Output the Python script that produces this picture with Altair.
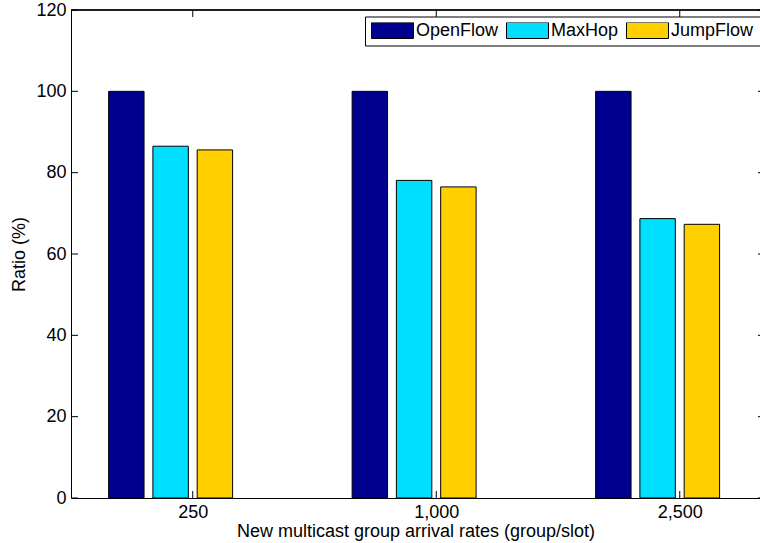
import json

import altair as alt
import pandas as pd

# Chart values
categories = ["250", "1,000", "2,500"]
series = ["OpenFlow", "MaxHop", "JumpFlow"]
openflow = [100, 100, 100]
maxhop = [86.5, 78.1, 68.7]
jumpflow = [85.6, 76.5, 67.3]
colors = ["#00008f", "#00dfff", "#ffcf00"]
y_ticks = [0, 20, 40, 60, 80, 100, 120]

FONT = "Liberation Sans"
FS = 18

# Plot geometry (pixels) and x layout (one unit per group)
W, H = 689, 488
GROUP_PX = 243.5
X_MIN = 0.5
X_MAX = X_MIN + W / GROUP_PX
SLOT = (4 / 5.5) / 4          # bar pitch inside a group (room for four bars)
HALF = 0.8 * SLOT / 2         # half bar width

rows = []
for k, (name, vals) in enumerate(zip(series, [openflow, maxhop, jumpflow])):
    for g, (cat, v) in enumerate(zip(categories, vals), start=1):
        c = g + (k - 1.5) * SLOT
        rows.append({"series": name, "category": cat, "ratio": v,
                     "x0": c - HALF, "x1": c + HALF})
bars_df = pd.DataFrame(rows)
groups_df = pd.DataFrame({"pos": list(range(1, len(categories) + 1))})
yticks_df = pd.DataFrame({"v": y_ticks})

label_expr = json.dumps(categories) + "[datum.value - 1]"

x_scale = alt.Scale(domain=[X_MIN, X_MAX], nice=False, zero=False)
y_scale = alt.Scale(domain=[0, 120], nice=False)

bars = alt.Chart(bars_df).mark_bar(stroke="black", strokeWidth=1).encode(
    x=alt.X("x0:Q", scale=x_scale,
            axis=alt.Axis(values=[1, 2, 3], labelExpr=label_expr,
                          title="New multicast group arrival rates (group/slot)",
                          grid=False, ticks=False, tickSize=0,
                          domainColor="black", domainWidth=1,
                          labelFont=FONT, labelFontSize=FS, labelColor="black",
                          labelPadding=5, labelFlush=False,
                          titleFont=FONT, titleFontSize=FS, titleColor="black",
                          titleFontWeight="normal", titlePadding=1)),
    x2="x1:Q",
    y=alt.Y("ratio:Q", scale=y_scale,
            axis=alt.Axis(values=y_ticks, title="Ratio (%)",
                          grid=False, ticks=False, tickSize=0,
                          domainColor="black", domainWidth=1,
                          labelFont=FONT, labelFontSize=FS, labelColor="black",
                          labelPadding=5, labelFlush=False,
                          titleFont=FONT, titleFontSize=FS, titleColor="black",
                          titleFontWeight="normal", titlePadding=7)),
    y2=alt.datum(0),
    color=alt.Color("series:N", sort=series,
                    scale=alt.Scale(domain=series, range=colors),
                    legend=alt.Legend(title=None, orient="none",
                                      legendX=294, legendY=6.5,
                                      direction="horizontal",
                                      symbolType="M-1,-0.381H1V0.381H-1Z",
                                      symbolSize=1764,
                                      symbolStrokeColor="black",
                                      symbolStrokeWidth=1, symbolOpacity=1,
                                      labelFont=FONT, labelFontSize=FS,
                                      labelColor="black", labelOffset=2,
                                      columnPadding=7, clipHeight=16,
                                      strokeColor="black", fillColor="white",
                                      padding=6)),
)

# Inward tick marks on all four sides, plus the top frame line
left_ticks = alt.Chart(yticks_df).mark_rule(color="black", strokeWidth=1).encode(
    y=alt.Y("v:Q", scale=y_scale), x=alt.value(0), x2=alt.value(7))
right_ticks = alt.Chart(yticks_df).mark_rule(color="black", strokeWidth=1).encode(
    y=alt.Y("v:Q", scale=y_scale), x=alt.value(W - 2), x2=alt.value(W + 5))
bottom_ticks = alt.Chart(groups_df).mark_rule(color="black", strokeWidth=1).encode(
    x=alt.X("pos:Q", scale=x_scale), y=alt.value(H), y2=alt.value(H - 7))
top_ticks = alt.Chart(groups_df).mark_rule(color="black", strokeWidth=1).encode(
    x=alt.X("pos:Q", scale=x_scale), y=alt.value(0), y2=alt.value(7))
top_line = alt.Chart(groups_df).mark_rule(color="black", strokeWidth=1).encode(
    x=alt.value(0), x2=alt.value(W), y=alt.value(0))

chart = alt.layer(bars, left_ticks, right_ticks, bottom_ticks, top_ticks, top_line).properties(
    width=W, height=H,
    autosize=alt.AutoSizeParams(type="none"),
    padding={"left": 71, "top": 10, "right": 0, "bottom": 45},
    background="white",
).configure_view(stroke=None)

chart.save("out.html", embed_options={"renderer": "svg", "actions": False})
